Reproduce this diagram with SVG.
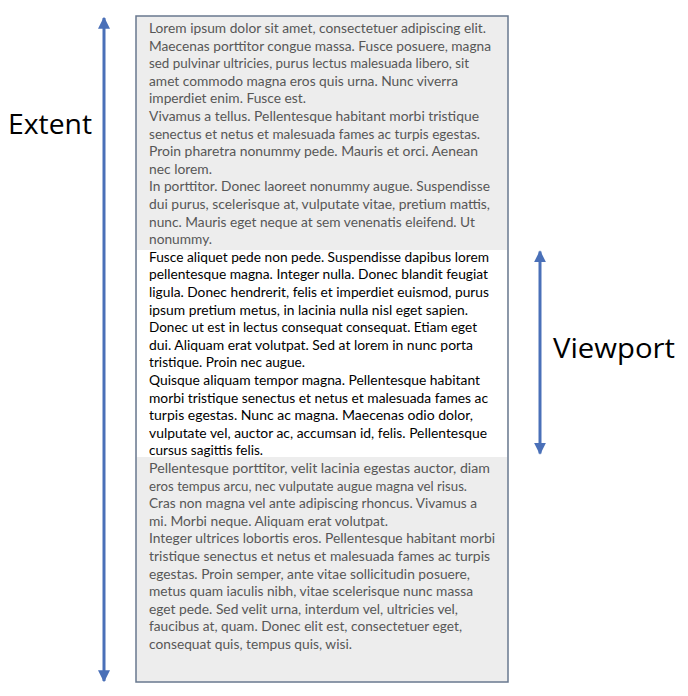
<svg xmlns="http://www.w3.org/2000/svg" width="688" height="696" viewBox="0 0 688 696">
<style>
.body{font-family:Lato,"Open Sans",sans-serif;font-size:13.6px}
.g{fill:#575757}
.k{fill:#000}
.lbl{font-family:"Open Sans",Lato,sans-serif;font-size:27px;fill:#000}
.arr{stroke:#4a70b8;stroke-width:3;fill:none;marker-start:url(#ah);marker-end:url(#ah)}
</style>
<defs>
<marker id="ah" viewBox="0 0 10 10" refX="9" refY="5" markerWidth="4" markerHeight="4" orient="auto-start-reverse" markerUnits="strokeWidth">
<path d="M0,0 L10,5 L0,10 z" fill="#4a70b8"/>
</marker>
</defs>
<rect x="0" y="0" width="688" height="696" fill="#fff"/>
<g id="document">
<rect x="136" y="16" width="372" height="666" fill="#ededed"/>
<rect x="136.75" y="250" width="370.5" height="207" fill="#fff"/>
<rect x="136" y="16" width="372" height="666" fill="none" stroke="#68788f" stroke-width="1.5"/>
</g>
<g id="text-top" class="body g">
<text x="149" y="33" textLength="337" lengthAdjust="spacingAndGlyphs">Lorem ipsum dolor sit amet, consectetuer adipiscing elit.</text>
<text x="149" y="50.6" textLength="342" lengthAdjust="spacingAndGlyphs">Maecenas porttitor congue massa. Fusce posuere, magna</text>
<text x="149" y="68.2" textLength="320" lengthAdjust="spacingAndGlyphs">sed pulvinar ultricies, purus lectus malesuada libero, sit</text>
<text x="149" y="85.8" textLength="309" lengthAdjust="spacingAndGlyphs">amet commodo magna eros quis urna. Nunc viverra</text>
<text x="149" y="103.4" textLength="157" lengthAdjust="spacingAndGlyphs">imperdiet enim. Fusce est.</text>
<text x="149" y="121" textLength="330" lengthAdjust="spacingAndGlyphs">Vivamus a tellus. Pellentesque habitant morbi tristique</text>
<text x="149" y="138.6" textLength="331" lengthAdjust="spacingAndGlyphs">senectus et netus et malesuada fames ac turpis egestas.</text>
<text x="149" y="156.2" textLength="329" lengthAdjust="spacingAndGlyphs">Proin pharetra nonummy pede. Mauris et orci. Aenean</text>
<text x="149" y="173.8" textLength="63" lengthAdjust="spacingAndGlyphs">nec lorem.</text>
<text x="149" y="191.4" textLength="341" lengthAdjust="spacingAndGlyphs">In porttitor. Donec laoreet nonummy augue. Suspendisse</text>
<text x="149" y="209" textLength="341" lengthAdjust="spacingAndGlyphs">dui purus, scelerisque at, vulputate vitae, pretium mattis,</text>
<text x="149" y="226.6" textLength="326" lengthAdjust="spacingAndGlyphs">nunc. Mauris eget neque at sem venenatis eleifend. Ut</text>
<text x="149" y="244.2" textLength="63" lengthAdjust="spacingAndGlyphs">nonummy.</text>
</g>
<g id="text-viewport" class="body k">
<text x="149" y="261.8" textLength="340" lengthAdjust="spacingAndGlyphs">Fusce aliquet pede non pede. Suspendisse dapibus lorem</text>
<text x="149" y="279.4" textLength="339" lengthAdjust="spacingAndGlyphs">pellentesque magna. Integer nulla. Donec blandit feugiat</text>
<text x="149" y="297" textLength="340" lengthAdjust="spacingAndGlyphs">ligula. Donec hendrerit, felis et imperdiet euismod, purus</text>
<text x="149" y="314.6" textLength="319" lengthAdjust="spacingAndGlyphs">ipsum pretium metus, in lacinia nulla nisl eget sapien.</text>
<text x="149" y="332.2" textLength="328" lengthAdjust="spacingAndGlyphs">Donec ut est in lectus consequat consequat. Etiam eget</text>
<text x="149" y="349.8" textLength="324" lengthAdjust="spacingAndGlyphs">dui. Aliquam erat volutpat. Sed at lorem in nunc porta</text>
<text x="149" y="367.4" textLength="156" lengthAdjust="spacingAndGlyphs">tristique. Proin nec augue.</text>
<text x="149" y="385" textLength="331" lengthAdjust="spacingAndGlyphs">Quisque aliquam tempor magna. Pellentesque habitant</text>
<text x="149" y="402.6" textLength="339" lengthAdjust="spacingAndGlyphs">morbi tristique senectus et netus et malesuada fames ac</text>
<text x="149" y="420.2" textLength="324" lengthAdjust="spacingAndGlyphs">turpis egestas. Nunc ac magna. Maecenas odio dolor,</text>
<text x="149" y="437.8" textLength="338" lengthAdjust="spacingAndGlyphs">vulputate vel, auctor ac, accumsan id, felis. Pellentesque</text>
<text x="149" y="455.4" textLength="114" lengthAdjust="spacingAndGlyphs">cursus sagittis felis.</text>
</g>
<g id="text-bottom" class="body g">
<text x="149" y="473" textLength="341" lengthAdjust="spacingAndGlyphs">Pellentesque porttitor, velit lacinia egestas auctor, diam</text>
<text x="149" y="490.6" textLength="318" lengthAdjust="spacingAndGlyphs">eros tempus arcu, nec vulputate augue magna vel risus.</text>
<text x="149" y="508.2" textLength="328" lengthAdjust="spacingAndGlyphs">Cras non magna vel ante adipiscing rhoncus. Vivamus a</text>
<text x="149" y="525.8" textLength="239" lengthAdjust="spacingAndGlyphs">mi. Morbi neque. Aliquam erat volutpat.</text>
<text x="149" y="543.4" textLength="346" lengthAdjust="spacingAndGlyphs">Integer ultrices lobortis eros. Pellentesque habitant morbi</text>
<text x="149" y="561" textLength="341" lengthAdjust="spacingAndGlyphs">tristique senectus et netus et malesuada fames ac turpis</text>
<text x="149" y="578.6" textLength="321" lengthAdjust="spacingAndGlyphs">egestas. Proin semper, ante vitae sollicitudin posuere,</text>
<text x="149" y="596.2" textLength="324" lengthAdjust="spacingAndGlyphs">metus quam iaculis nibh, vitae scelerisque nunc massa</text>
<text x="149" y="613.8" textLength="309" lengthAdjust="spacingAndGlyphs">eget pede. Sed velit urna, interdum vel, ultricies vel,</text>
<text x="149" y="631.4" textLength="313" lengthAdjust="spacingAndGlyphs">faucibus at, quam. Donec elit est, consectetuer eget,</text>
<text x="149" y="649" textLength="203" lengthAdjust="spacingAndGlyphs">consequat quis, tempus quis, wisi.</text>
</g>
<g id="connectors">
<line class="arr" x1="104" y1="18" x2="104" y2="681"/>
<line class="arr" x1="540" y1="251.5" x2="540" y2="453.5"/>
</g>
<g id="label-extent">
<text class="lbl" x="8" y="134" textLength="84" lengthAdjust="spacingAndGlyphs">Extent</text>
</g>
<g id="label-viewport">
<text class="lbl" x="553" y="358" textLength="122" lengthAdjust="spacingAndGlyphs">Viewport</text>
</g>
</svg>
